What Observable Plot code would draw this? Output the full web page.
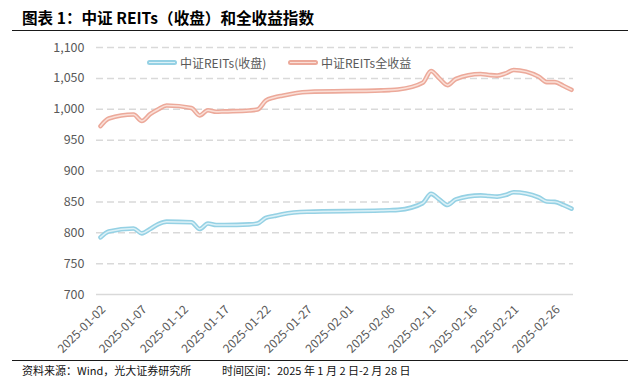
<!DOCTYPE html>
<html><head><meta charset="utf-8">
<script src="https://cdn.jsdelivr.net/npm/d3@7"></script>
<script src="https://cdn.jsdelivr.net/npm/@observablehq/plot@0.6"></script>
<style>
body{margin:0;background:#fff;}
#wrap{position:relative;width:640px;height:378px;font-family:"Noto Sans CJK SC","Noto Sans",sans-serif;overflow:hidden;}
.abs{position:absolute;white-space:nowrap;}
</style></head>
<body>
<div id="wrap">
  <div class="abs" style="left:22px;top:6px;font-size:15.6px;font-weight:bold;line-height:22px;color:#000">图表 1：中证 REITs（收盘）和全收益指数</div>
  <div class="abs" style="left:12px;top:30px;width:616px;border-top:1.5px solid #1a1a1a"></div>
  <div id="chart" class="abs" style="left:0;top:32px"></div>
  <div id="legend"></div>
  <div class="abs" style="left:12px;top:360px;width:616px;border-top:1.5px solid #1a1a1a"></div>
  <div class="abs" style="left:22px;top:362px;font-size:11px;line-height:16px;color:#111">资料来源：Wind，光大证券研究所</div>
  <div class="abs" style="left:222px;top:362px;font-size:11px;line-height:16px;color:#111">时间区间：2025 年 1 月 2 日-2 月 28 日</div>
</div>
<script>
const dates = [
  "2025-01-02","2025-01-03","2025-01-06","2025-01-07","2025-01-08","2025-01-09","2025-01-10",
  "2025-01-13","2025-01-14","2025-01-15","2025-01-16","2025-01-17","2025-01-20","2025-01-21",
  "2025-01-22","2025-01-23","2025-01-24","2025-01-27",
  "2025-02-05","2025-02-06","2025-02-07","2025-02-10","2025-02-11","2025-02-12","2025-02-13",
  "2025-02-14","2025-02-17","2025-02-18","2025-02-19","2025-02-20","2025-02-21","2025-02-24",
  "2025-02-25","2025-02-26","2025-02-27","2025-02-28"
];
const reitsClose = [
  792.5, 802, 807, 799, 806, 814, 818,
  817, 806, 815, 812.5, 812.5, 813.5, 815,
  824, 827, 830, 834,
  836, 836.5, 837, 848, 863, 854, 845,
  854, 860.5, 859.5, 858.5, 861, 865.5, 857.5,
  850.5, 850, 845, 839
];
const reitsTotal = [
  972.6, 985, 991.5, 981, 992, 1000, 1006,
  1002, 990, 998.5, 996, 996.5, 998, 999.5,
  1014, 1019, 1022, 1028,
  1030.5, 1031, 1032, 1043, 1062, 1050, 1039,
  1049, 1057, 1055.5, 1054.5, 1058, 1063.5, 1053,
  1044, 1044, 1038, 1031.5
];
const seriesNames = ["中证REITs(收盘)", "中证REITs全收益"];
const xTickLabels = ["2025-01-02","2025-01-07","2025-01-12","2025-01-17","2025-01-22","2025-01-27",
  "2025-02-01","2025-02-06","2025-02-11","2025-02-16","2025-02-21","2025-02-26"];
const yTicks = [700, 750, 800, 850, 900, 950, 1000, 1050, 1100];

const blueEdge = "#95d1e4", blueCore = "#dcf1f7";
const redEdge = "#eca99a", redCore = "#fadfd7";

const parse = d3.utcParse("%Y-%m-%d");
const closeData = dates.map((d, i) => ({date: parse(d), value: reitsClose[i]}));
const totalData = dates.map((d, i) => ({date: parse(d), value: reitsTotal[i]}));
const xTicks = xTickLabels.map(parse);

const chart = Plot.plot({
  width: 640,
  height: 328,
  marginLeft: 96,
  marginRight: 67,
  marginTop: 15,
  marginBottom: 66,
  style: {fontFamily: "'Noto Sans CJK SC', 'Noto Sans', sans-serif", background: "transparent"},
  x: {type: "utc", domain: [parse("2025-01-02"), parse("2025-02-28")], range: [100, 571], axis: null},
  y: {domain: [700, 1100], label: null},
  marks: [
    Plot.ruleY(yTicks.filter(d => d > 700), {stroke: "#d9d9d9", strokeWidth: 1.5, strokeDasharray: "7,4"}),
    Plot.ruleY([700], {stroke: "#d9d9d9", strokeWidth: 1.5}),
    Plot.axisY({ticks: yTicks, tickFormat: d3.format(","), tickSize: 0, tickPadding: 12, fontSize: 12.5, color: "#595959", label: null}),
    Plot.text(xTicks, {x: d => d, y: 700, text: (d, i) => xTickLabels[i], rotate: -45, textAnchor: "end",
      dy: 13, dx: 3, fontSize: 12, fill: "#595959"}),
    Plot.line(totalData, {x: "date", y: "value", stroke: redEdge, strokeWidth: 4.6, curve: "monotone-x"}),
    Plot.line(totalData, {x: "date", y: "value", stroke: redCore, strokeWidth: 1.5, curve: "monotone-x"}),
    Plot.line(closeData, {x: "date", y: "value", stroke: blueEdge, strokeWidth: 4.6, curve: "monotone-x"}),
    Plot.line(closeData, {x: "date", y: "value", stroke: blueCore, strokeWidth: 1.5, curve: "monotone-x"})
  ]
});
document.getElementById("chart").appendChild(chart);

// legend
const legendItems = [
  {name: seriesNames[0], edge: blueEdge, core: blueCore, left: 147},
  {name: seriesNames[1], edge: redEdge, core: redCore, left: 288}
];
const lg = document.getElementById("legend");
legendItems.forEach(it => {
  const sw = document.createElement("div");
  sw.className = "abs";
  sw.style.cssText = `left:${it.left}px;top:60px;width:30px;height:5px;border-radius:3px;background:${it.edge};`;
  const core = document.createElement("div");
  core.style.cssText = `position:absolute;left:2px;top:1.7px;width:26px;height:1.5px;background:${it.core};`;
  sw.appendChild(core);
  lg.appendChild(sw);
  const t = document.createElement("div");
  t.className = "abs";
  t.style.cssText = `left:${it.left + 33}px;top:54px;font-size:12px;line-height:17px;color:#595959;`;
  t.textContent = it.name;
  lg.appendChild(t);
});
</script>
</body></html>
